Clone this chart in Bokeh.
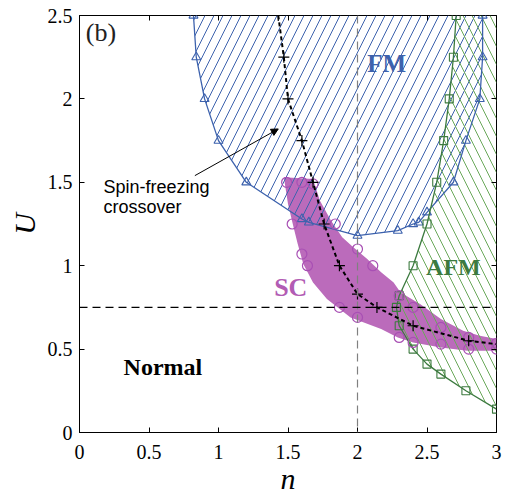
from bokeh.plotting import figure
from bokeh.models import Range1d, FixedTicker, LinearAxis, Span, Label, Arrow, NormalHead
from bokeh.embed import file_html
from bokeh.resources import INLINE

# ---- data ----
x_ticks = [0, 0.5, 1, 1.5, 2, 2.5, 3]
x_tick_labels = ["0", "0.5", "1", "1.5", "2", "2.5", "3"]
y_ticks = [0, 0.5, 1, 1.5, 2, 2.5]
y_tick_labels = ["0", "0.5", "1", "1.5", "2", "2.5"]

# FM phase boundary (triangles)
fm_n = [0.82, 0.84, 0.90, 1.00, 1.20, 1.60, 1.65, 2.00, 2.29, 2.40, 2.44, 2.50, 2.69, 2.78, 2.88, 2.90, 2.90]
fm_U = [2.50, 2.25, 2.00, 1.75, 1.50, 1.28, 1.26, 1.18, 1.21, 1.25, 1.26, 1.32, 1.50, 1.75, 2.00, 2.25, 2.50]

# AFM phase boundary (squares)
afm_n = [2.71, 2.69, 2.66, 2.62, 2.57, 2.50, 2.40, 2.30, 2.28, 2.30, 2.40, 2.50, 2.60, 2.78, 3.00]
afm_U = [2.50, 2.25, 2.00, 1.75, 1.50, 1.25, 1.00, 0.82, 0.75, 0.64, 0.50, 0.41, 0.35, 0.25, 0.14]

# spin-freezing crossover (+)
sf_n = [1.43, 1.47, 1.50, 1.60, 1.68, 1.76, 1.87, 2.00, 2.14, 2.40, 2.80]
sf_U = [2.50, 2.25, 2.00, 1.75, 1.50, 1.25, 1.00, 0.83, 0.75, 0.64, 0.55]
sf_end_n = [3.00]
sf_end_U = [0.53]

# SC data points (circles)
sc_n = [1.49, 1.60, 1.68, 1.53, 1.84, 2.00, 1.60, 1.64, 2.11, 1.87, 2.00, 2.30, 2.40,
        2.30, 2.40, 2.60, 2.60, 2.80, 2.80, 3.00, 3.00]
sc_U = [1.50, 1.50, 1.49, 1.25, 1.25, 1.10, 1.07, 1.00, 1.00, 0.75, 0.69, 0.82, 0.75,
        0.57, 0.54, 0.63, 0.53, 0.57, 0.50, 0.535, 0.50]

# SC region outline
sc_area_n = [1.47, 1.68, 1.73, 1.81, 1.89, 1.97, 2.07, 2.17, 2.26, 2.31, 2.45, 2.60, 2.76, 2.88, 3.00,
             3.00, 2.79, 2.60, 2.40, 2.29, 2.17, 1.95, 1.78, 1.68, 1.61, 1.57, 1.54, 1.50]
sc_area_U = [1.53, 1.52, 1.39, 1.27, 1.17, 1.11, 1.04, 0.96, 0.90, 0.84, 0.77, 0.68, 0.61, 0.58, 0.56,
             0.49, 0.49, 0.51, 0.54, 0.57, 0.62, 0.69, 0.80, 0.90, 1.01, 1.13, 1.23, 1.37]

n_ref = 2.0
U_ref = 0.75

BLUE = "#3d62ad"
GREEN = "#3c7a3f"
GREEN_H = "#6aa85a"
MAG_FILL = "#bb6bbb"
MAG_LINE = "#a84fb4"
SERIF = "Liberation Serif"

p = figure(width=505, height=499, output_backend="svg", toolbar_location=None,
           x_range=Range1d(0, 3), y_range=Range1d(0, 2.5),
           min_border_left=79, min_border_right=9, min_border_top=15, min_border_bottom=67)
p.xgrid.visible = False
p.ygrid.visible = False
p.outline_line_color = "black"
p.outline_line_width = 1
p.background_fill_color = "white"
p.border_fill_color = "white"

# regions
p.patch(sc_area_n, sc_area_U, fill_color=MAG_FILL, line_color=None)
p.patch(fm_n, fm_U, fill_alpha=0, line_color=None,
        hatch_pattern="/", hatch_color=BLUE, hatch_scale=18, hatch_weight=1)
p.patch(afm_n + [x_ticks[-1]], afm_U + [y_ticks[-1]], fill_alpha=0, line_color=None,
        hatch_pattern="\\", hatch_color=GREEN_H, hatch_scale=18, hatch_weight=1)

# reference dashed lines
p.add_layout(Span(location=n_ref, dimension="height", line_color="#808080",
                  line_dash="8 5", line_width=1.2))
p.add_layout(Span(location=U_ref, dimension="width", line_color="black",
                  line_dash="8 5", line_width=1.2))

# boundaries
p.line(fm_n, fm_U, line_color=BLUE, line_width=1.3)
p.scatter(fm_n, fm_U, marker="triangle", size=9, fill_alpha=0, line_color=BLUE, line_width=1.1)
p.line(afm_n, afm_U, line_color=GREEN, line_width=1.3)
p.scatter(afm_n, afm_U, marker="square", size=8, fill_alpha=0, line_color=GREEN, line_width=1.1)
p.scatter(sc_n, sc_U, marker="circle", size=10, fill_alpha=0, line_color=MAG_LINE, line_width=1.2)
p.line(sf_n + sf_end_n, sf_U + sf_end_U, line_color="black", line_width=2, line_dash="4 3")
p.scatter(sf_n, sf_U, marker="cross", size=11, line_color="black", line_width=1.2)

# annotations
p.add_layout(Label(x=0.045, y=2.31, text="(b)", text_font=SERIF, text_font_size="26px",
                   text_color="#222222"))
p.add_layout(Label(x=2.21, y=2.21, text="FM", text_font=SERIF, text_font_style="bold",
                   text_font_size="25px", text_color=BLUE, text_align="center", text_baseline="middle"))
p.add_layout(Label(x=2.69, y=0.99, text="AFM", text_font=SERIF, text_font_style="bold",
                   text_font_size="24px", text_color=GREEN, text_align="center", text_baseline="middle"))
p.add_layout(Label(x=1.52, y=0.87, text="SC", text_font=SERIF, text_font_style="bold",
                   text_font_size="26px", text_color="#b25cb4", text_align="center", text_baseline="middle"))
p.add_layout(Label(x=0.60, y=0.39, text="Normal", text_font=SERIF, text_font_style="bold",
                   text_font_size="24px", text_color="black", text_align="center", text_baseline="middle"))
p.add_layout(Label(x=0.173, y=1.41, text="Spin-freezing", text_font="Liberation Sans",
                   text_font_size="18px", text_color="black"))
p.add_layout(Label(x=0.173, y=1.29, text="crossover", text_font="Liberation Sans",
                   text_font_size="18px", text_color="black"))
p.add_layout(Arrow(end=NormalHead(size=7, fill_color="black", line_color="black"),
                   x_start=0.83, y_start=1.54, x_end=1.43, y_end=1.82, line_width=1, line_color="black"))

# axes
xt = FixedTicker(ticks=x_ticks)
yt = FixedTicker(ticks=y_ticks)
p.xaxis.ticker = xt
p.yaxis.ticker = yt
p.xaxis.major_label_overrides = dict(zip(x_ticks, x_tick_labels))
p.yaxis.major_label_overrides = dict(zip(y_ticks, y_tick_labels))
for ax in (p.xaxis[0], p.yaxis[0]):
    ax.major_tick_in = 5
    ax.major_tick_out = 0
    ax.minor_tick_line_color = None
    ax.axis_line_color = "black"
    ax.major_label_text_font = SERIF
    ax.major_label_text_font_size = "20px"
    ax.major_label_text_color = "black"
    ax.axis_label_text_font = SERIF
    ax.axis_label_text_font_style = "italic"
    ax.axis_label_text_font_size = "30px"
    ax.axis_label_text_color = "black"
p.xaxis.axis_label = "n"
p.yaxis.axis_label = "U"
p.xaxis.major_label_standoff = 12
p.yaxis.major_label_standoff = 7
p.xaxis.axis_label_standoff = 0
p.yaxis.axis_label_standoff = 4

for loc, tk in (("above", xt), ("right", yt)):
    ax = LinearAxis(ticker=tk)
    ax.major_tick_in = 5
    ax.major_tick_out = 0
    ax.minor_tick_line_color = None
    ax.major_label_text_color = None
    ax.major_label_text_font_size = "1px"
    ax.major_label_standoff = 0
    ax.axis_line_color = None
    p.add_layout(ax, loc)

open("out.html", "w").write(file_html(p, INLINE))
